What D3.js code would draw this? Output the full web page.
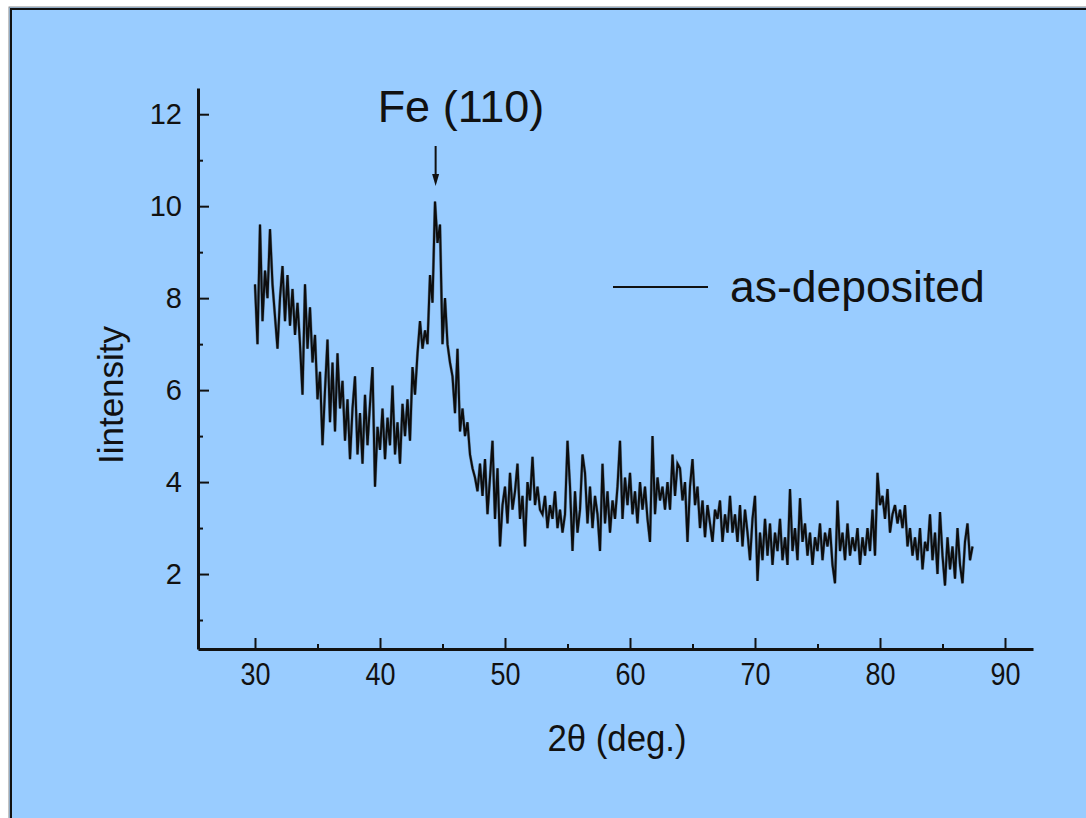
<!DOCTYPE html>
<html>
<head>
<meta charset="utf-8">
<script src="https://cdn.jsdelivr.net/npm/d3@7"></script>
<style>
  html, body { margin: 0; padding: 0; background: #ffffff; }
  svg { display: block; }
  text { font-family: Arial, "Liberation Sans", sans-serif; fill: #111; }
</style>
</head>
<body>
<svg id="chart" width="1086" height="818"></svg>
<script>
// XRD scan of the as-deposited film, 2θ from 30° in 0.2° steps
const scanStart = 30;
const scanStep = 0.2;
const intensity = [
  // 30–31
  8.3, 7.0, 9.6, 7.5, 8.6,
  8.0, 9.5, 8.3, 7.6, 6.9,
  // 32–33
  8.0, 8.7, 7.5, 8.5, 7.4,
  8.2, 7.2, 7.9, 7.0, 5.9,
  // 34–35
  8.3, 6.9, 7.8, 6.6, 7.2,
  5.8, 6.4, 4.8, 6.0, 7.1,
  // 36–37
  5.3, 6.6, 5.1, 6.8, 5.6,
  6.2, 4.9, 5.8, 4.5, 5.6,
  // 38–39
  6.3, 4.6, 5.5, 4.4, 5.9,
  4.8, 5.7, 6.5, 3.9, 5.2,
  // 40–41
  4.7, 5.6, 4.5, 5.4, 4.8,
  6.1, 4.6, 5.3, 4.4, 5.7,
  // 42–43
  5.0, 5.8, 4.9, 6.5, 5.9,
  6.8, 7.5, 6.9, 7.3, 7.0,
  // 44–45
  8.5, 7.9, 10.1, 9.2, 9.6,
  7.0, 8.0, 7.0, 6.6, 6.3,
  // 46–47
  5.5, 6.9, 5.1, 5.6, 5.0,
  5.3, 4.6, 4.3, 4.1, 3.8,
  // 48–49
  4.4, 3.7, 4.5, 3.3, 4.1,
  4.9, 3.2, 4.3, 2.6, 3.5,
  // 50–51
  3.9, 3.1, 4.2, 3.4, 3.8,
  4.4, 3.2, 3.7, 2.6, 4.0,
  // 52–53
  3.6, 4.55, 3.5, 3.9, 3.4,
  3.3, 3.7, 3.0, 3.5, 3.2,
  // 54–55
  3.8, 3.0, 3.4, 2.9, 3.3,
  4.9, 3.9, 2.5, 3.8, 2.9,
  // 56–57
  3.4, 4.6, 4.2, 3.1, 3.9,
  3.0, 3.7, 3.3, 2.5, 4.4,
  // 58–59
  3.1, 3.8, 2.9, 3.6, 3.2,
  3.9, 4.9, 3.2, 4.1, 3.5,
  // 60–61
  4.2, 3.3, 3.8, 3.1, 4.0,
  3.4, 3.9, 3.2, 2.7, 5.0,
  // 62–63
  3.3, 4.1, 3.6, 3.9, 3.4,
  4.0, 3.4, 4.6, 3.7, 4.4,
  // 64–65
  4.3, 3.6, 4.0, 2.7, 3.9,
  4.5, 3.5, 3.9, 3.0, 3.6,
  // 66–67
  2.8, 3.5, 3.1, 2.7, 3.4,
  3.2, 3.6, 2.7, 3.3, 2.9,
  // 68–69
  3.7, 2.9, 3.3, 2.7, 3.5,
  2.6, 3.4, 2.9, 2.3, 3.2,
  // 70–71
  3.7, 1.85, 2.9, 2.3, 3.2,
  2.4, 3.1, 2.2, 2.9, 2.5,
  // 72–73
  3.2, 2.3, 2.8, 2.2, 3.85,
  2.5, 3.0, 2.3, 3.65, 2.7,
  // 74–75
  3.1, 2.4, 2.9, 2.2, 2.8,
  2.5, 3.1, 2.3, 2.9, 2.6,
  // 76–77
  3.0, 2.2, 1.8, 3.6, 2.5,
  2.9, 2.3, 3.1, 2.4, 2.8,
  // 78–79
  2.5, 3.0, 2.2, 2.8, 2.4,
  3.0, 2.5, 3.4, 2.4, 4.2,
  // 80–81
  3.5, 3.7, 3.2, 3.85, 2.9,
  3.3, 3.5, 3.1, 3.4, 3.0,
  // 82–83
  3.5, 2.6, 3.0, 2.4, 2.8,
  2.3, 3.0, 2.1, 2.7, 2.5,
  // 84–85
  3.3, 2.3, 2.9, 2.0, 3.35,
  2.4, 1.75, 2.8, 2.1, 2.6,
  // 86–87.4
  1.9, 3.0, 2.2, 1.8, 2.7,
  3.1, 2.3, 2.6
];

const xMajorTicks = [30, 40, 50, 60, 70, 80, 90];
const xMinorTicks = [35, 45, 55, 65, 75, 85];
const yMajorTicks = [2, 4, 6, 8, 10, 12];
const yMinorTicks = [1, 3, 5, 7, 9, 11];

const peakLabel = "Fe (110)";
const peakPosition = 44.45;
const seriesName = "as-deposited";
const xTitle = "2θ (deg.)";
const yTitle = "Iintensity";

const svg = d3.select("#chart");

// light-blue page panel with a dark frame
svg.append("rect")
  .attr("x", 9).attr("y", 7).attr("width", 1100).attr("height", 840)
  .attr("fill", "#99ccff").attr("stroke", "#8a8a8a").attr("stroke-width", 1);
svg.append("rect")
  .attr("x", 11).attr("y", 9).attr("width", 1100).attr("height", 840)
  .attr("fill", "none").attr("stroke", "#111").attr("stroke-width", 2);

const x = d3.scaleLinear().domain([25.44, 92.24]).range([198, 1033]);
const y = d3.scaleLinear().domain([0.37, 12.57]).range([649, 88]);

const data = intensity.map((v, i) => ({ t: scanStart + i * scanStep, v }));

// axes with inward ticks
const gx = svg.append("g").attr("transform", `translate(0,${y.range()[0]})`);
gx.call(d3.axisBottom(x).tickValues(xMajorTicks).tickSizeInner(-11).tickSizeOuter(0).tickPadding(14));
gx.append("g").call(d3.axisBottom(x).tickValues(xMinorTicks).tickSizeInner(-5).tickSizeOuter(0).tickFormat(""));

const gy = svg.append("g").attr("transform", `translate(${x.range()[0]},0)`);
gy.call(d3.axisLeft(y).tickValues(yMajorTicks).tickSizeInner(-11).tickSizeOuter(0).tickPadding(16));
gy.append("g").call(d3.axisLeft(y).tickValues(yMinorTicks).tickSizeInner(-5).tickSizeOuter(0).tickFormat(""));

svg.selectAll(".domain").attr("stroke", "#111").attr("stroke-width", 3);
svg.selectAll(".tick line").attr("stroke", "#111").attr("stroke-width", 2);
gx.selectAll(".domain").filter((d, i, n) => n[i].parentNode !== gx.node()).remove();
gy.selectAll(".domain").filter((d, i, n) => n[i].parentNode !== gy.node()).remove();

// x tick labels are set slightly condensed
gx.selectAll(".tick text")
  .attr("font-size", 31)
  .attr("font-family", "Arial, 'Liberation Sans', sans-serif")
  .attr("fill", "#222")
  .attr("transform", "scale(0.87,1)");
gy.selectAll(".tick text")
  .attr("font-size", 29)
  .attr("font-family", "Arial, 'Liberation Sans', sans-serif")
  .attr("fill", "#222");

// diffraction trace
const line = d3.line().x(d => x(d.t)).y(d => y(d.v));
svg.append("path")
  .datum(data)
  .attr("d", line)
  .attr("fill", "none")
  .attr("stroke", "#3a4a5a")
  .attr("stroke-width", 3)
  .attr("stroke-linejoin", "miter")
  .attr("opacity", 0.55);
svg.append("path")
  .datum(data)
  .attr("d", line)
  .attr("fill", "none")
  .attr("stroke", "#0d0d0d")
  .attr("stroke-width", 2)
  .attr("stroke-linejoin", "miter");

// peak annotation with arrow
svg.append("text")
  .attr("x", 461).attr("y", 122)
  .attr("text-anchor", "middle")
  .attr("font-size", 45)
  .text(peakLabel);
const ax = x(peakPosition);
svg.append("line")
  .attr("x1", ax).attr("x2", ax).attr("y1", 146).attr("y2", 178)
  .attr("stroke", "#111").attr("stroke-width", 2);
svg.append("path")
  .attr("d", `M${ax - 3.5},174 L${ax + 3.5},174 L${ax},186 Z`)
  .attr("fill", "#111");

// legend
svg.append("line")
  .attr("x1", 613).attr("x2", 708).attr("y1", 287).attr("y2", 287)
  .attr("stroke", "#111").attr("stroke-width", 2);
svg.append("text")
  .attr("x", 730).attr("y", 302)
  .attr("font-size", 44.5)
  .text(seriesName);

// axis titles
svg.append("text")
  .attr("x", 617).attr("y", 751)
  .attr("text-anchor", "middle")
  .attr("font-size", 37)
  .attr("transform", "translate(617,0) scale(0.94,1) translate(-617,0)")
  .text(xTitle);
svg.append("text")
  .attr("transform", "translate(123,395) rotate(-90)")
  .attr("text-anchor", "middle")
  .attr("font-size", 35)
  .text(yTitle);
</script>
</body>
</html>
